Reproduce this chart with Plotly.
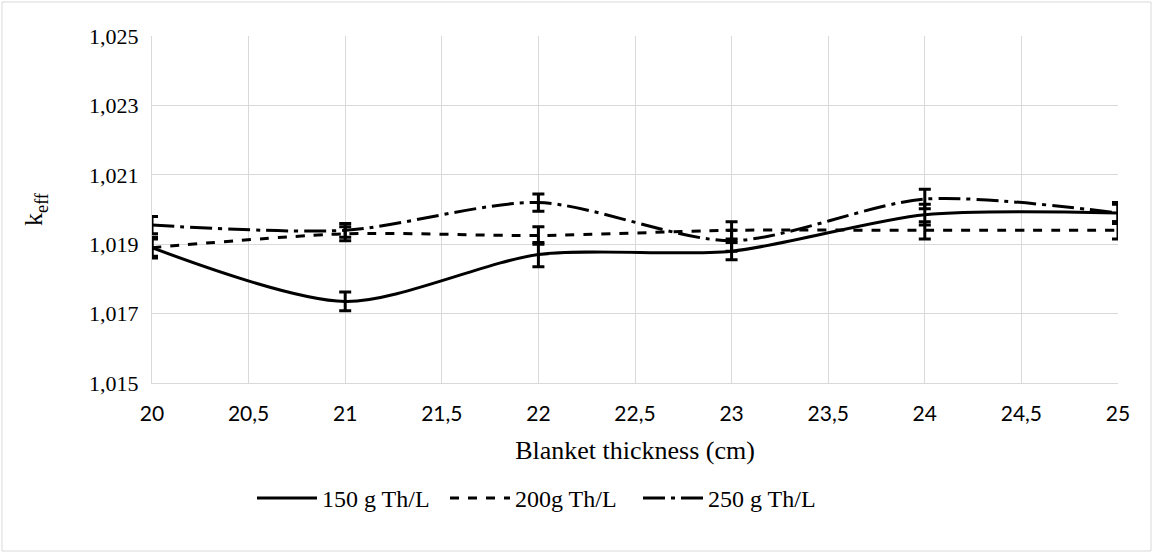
import plotly.graph_objects as go

thickness = [20, 21, 22, 23, 24, 25]
keff_150 = [1.0189, 1.01735, 1.0187, 1.0188, 1.01985, 1.0199]
keff_200 = [1.0189, 1.0193, 1.01925, 1.0194, 1.0194, 1.0194]
keff_250 = [1.01955, 1.0194, 1.0202, 1.0191, 1.0203, 1.0199]
err_150 = [0.0003, 0.00027, 0.00035, 0.00025, 0.0003, 0.0003]
err_200 = [0.00025, 0.0002, 0.00025, 0.00025, 0.00025, 0.00025]
err_250 = [0.00025, 0.0002, 0.00025, 0.0003, 0.00028, 0.00025]

series_names = ["150 g Th/L", "200g Th/L", "250 g Th/L"]
x_tick_vals = [20, 20.5, 21, 21.5, 22, 22.5, 23, 23.5, 24, 24.5, 25]
x_tick_text = ["20", "20,5", "21", "21,5", "22", "22,5", "23", "23,5", "24", "24,5", "25"]
y_tick_vals = [1.015, 1.017, 1.019, 1.021, 1.023, 1.025]
y_tick_text = ["1,015", "1,017", "1,019", "1,021", "1,023", "1,025"]

dashes = ["solid", "dash", "22px,6px,4px,6px"]
fig = go.Figure()
for name, ys, es, d in zip(series_names, [keff_150, keff_200, keff_250],
                           [err_150, err_200, err_250], dashes):
    fig.add_trace(go.Scatter(
        x=thickness, y=ys, name=name, mode="lines",
        line=dict(color="black", width=3, dash=d, shape="spline", smoothing=0.8),
        error_y=dict(type="data", array=es, visible=True, color="black",
                     thickness=3, width=6),
    ))

L, R, T, B = 152, 36, 36, 170
W, H = 1154, 553
pw, ph = W - L - R, H - T - B

fig.update_layout(
    width=W, height=H,
    margin=dict(l=L, r=R, t=T, b=B),
    plot_bgcolor="white", paper_bgcolor="white",
    showlegend=True,
    legend=dict(orientation="h", x=(252 - L) / pw, xanchor="left",
                y=(T + ph - 476) / ph, yanchor="top",
                font=dict(family="Liberation Serif", size=24, color="black"),
                itemwidth=60, entrywidth=118, entrywidthmode="pixels",
                tracegroupgap=0),
    xaxis=dict(range=[20, 25], tickvals=x_tick_vals, ticktext=x_tick_text,
               showgrid=True, gridcolor="#d9d9d9", gridwidth=1,
               showline=True, linecolor="#d9d9d9", linewidth=1, zeroline=False,
               ticks="", ticklabelstandoff=12,
               tickfont=dict(family="Lato", size=21, color="black"),
               title=dict(text="Blanket thickness (cm)", standoff=16,
                          font=dict(family="Liberation Serif", size=26, color="black"))),
    yaxis=dict(range=[1.015, 1.025], tickvals=y_tick_vals, ticktext=y_tick_text,
               showgrid=True, gridcolor="#d9d9d9", gridwidth=1,
               showline=True, linecolor="#d9d9d9", linewidth=1, zeroline=False,
               ticks="", ticklabelstandoff=8,
               tickfont=dict(family="Liberation Serif", size=22, color="black"),
               title=dict(text="k<sub>eff</sub>", standoff=38,
                          font=dict(family="Liberation Serif", size=26, color="black"))),
    shapes=[dict(type="rect", xref="paper", yref="paper",
                 x0=(2 - L) / pw, x1=(W - 3 - L) / pw,
                 y0=(T + ph - (H - 2)) / ph, y1=(T + ph - 2) / ph,
                 line=dict(color="#d9d9d9", width=1), fillcolor="rgba(0,0,0,0)",
                 layer="below")],
)

fig.write_html("out.html")
